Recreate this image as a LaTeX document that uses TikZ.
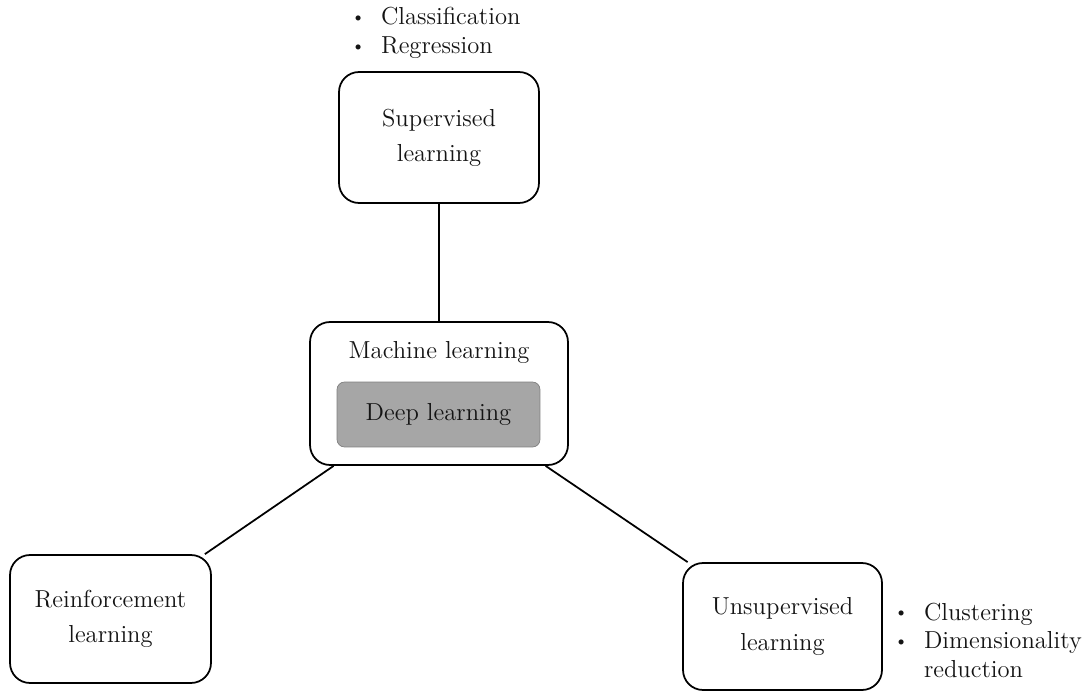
\documentclass[tikz,border=0pt]{standalone}
\usepackage{amsmath, amssymb}
\usepackage{tikz}
\usepackage{xcolor}

\newcommand{\itemdot}{\raisebox{1.3pt}{\fontsize{10}{10}\selectfont\textbullet}}

\begin{document}
\begin{tikzpicture}[x=0.02cm, y=-0.02cm, node distance=1.8cm, auto]
\tikzstyle{block} = [rectangle, draw, line width=1pt, text=black!92, align=center, rounded corners=0.4cm, font=\fontsize{14}{20}\selectfont]
\tikzstyle{inner} = [rectangle, draw=black!50, fill=black!35, text=black!92, rounded corners=0.15cm, minimum width=4.06cm, minimum height=1.3cm, font=\fontsize{14}{17}\selectfont]
\tikzstyle{bullets} = [inner sep=0, anchor=base west, text=black!92, font=\fontsize{14}{16.5}\selectfont]
\tikzstyle{link} = [line width=1pt]

\useasboundingbox (0,0) rectangle (1091,692);

\node [block, minimum width=4cm, minimum height=2.62cm] (supervised) at (439,137.5) {Supervised\\learning};
\node [block, minimum width=5.16cm, minimum height=2.86cm] (ml) at (439,393.5) {};
\node [text=black!92, font=\fontsize{14}{17}\selectfont] (mltext) at (439,352) {Machine learning};
\node [inner] (deep) at (438.5,414.5) {Deep learning};
\node [block, minimum width=4.02cm, minimum height=2.56cm] (reinforcement) at (110.5,619) {Reinforcement\\learning};
\node [block, minimum width=3.98cm, minimum height=2.54cm] (unsupervised) at (782.5,626.5) {Unsupervised\\learning};

\node [bullets] (suptasks) at (351,25) {\begin{tabular}[t]{@{}l@{\hspace{0.32cm}}l@{}}
\itemdot & Classification\\
\itemdot & Regression
\end{tabular}};
\node [bullets] (unsuptasks) at (894,620) {\begin{tabular}[t]{@{}l@{\hspace{0.32cm}}l@{}}
\itemdot & Clustering\\
\itemdot & Dimensionality\\
 & reduction
\end{tabular}};

\draw [link] (supervised) -- (ml);
\draw [link] (ml) -- (reinforcement);
\draw [link] (ml) -- (unsupervised);

\end{tikzpicture}
\end{document}
